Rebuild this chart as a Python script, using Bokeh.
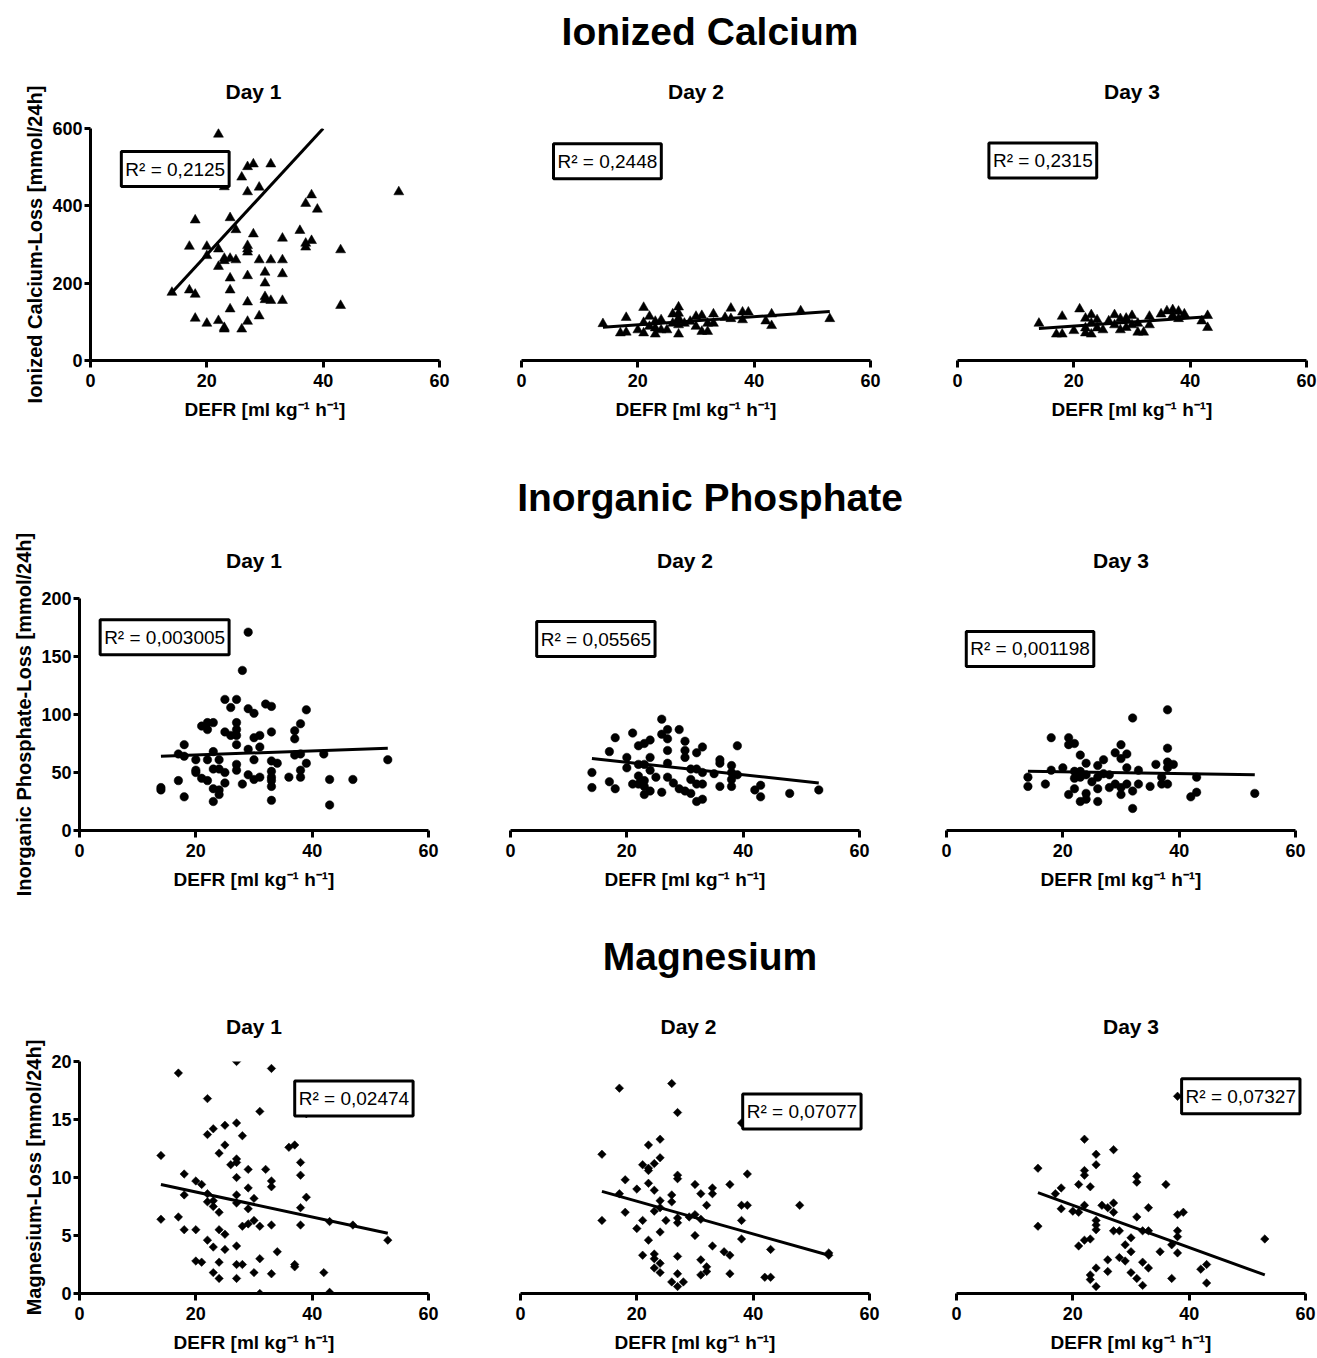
import numpy as np
from bokeh.plotting import figure
from bokeh.layouts import column, row
from bokeh.models import Div, Range1d, Label
from bokeh.embed import file_html
from bokeh.resources import INLINE

# ---------------- data ----------------
x_ticks = [0, 20, 40, 60]
ca_ticks = [0, 200, 400, 600]
pi_ticks = [0, 50, 100, 150, 200]
mg_ticks = [0, 5, 10, 15, 20]

row_titles = ["Ionized Calcium", "Inorganic Phosphate", "Magnesium"]
day_titles = ["Day 1", "Day 2", "Day 3"]
x_label = "DEFR [ml kg\u207b\u00b9 h\u207b\u00b9]"
y_labels = ["Ionized Calcium-Loss [mmol/24h]",
            "Inorganic Phosphate-Loss [mmol/24h]",
            "Magnesium-Loss [mmol/24h]"]

# Ionized calcium
ca_d1_x = [14, 17, 17, 18, 18, 18, 20, 20, 20, 22, 22, 22, 22, 23, 23, 23, 23, 23, 24, 24, 24, 24, 24,
           25, 25, 26, 26, 27, 27, 27, 27, 27, 27, 27, 27, 28, 28, 29, 29, 29, 30, 30, 30, 30, 31, 31, 31,
           33, 33, 33, 33, 36, 37, 37, 37, 38, 38, 39, 43, 43, 53]
ca_d1_y = [176, 182, 295, 363, 171, 109, 295, 271, 96, 585, 288, 243, 103, 449, 264, 258, 85, 81,
           369, 264, 213, 182, 133, 338, 260, 474, 81, 501, 436, 297, 288, 280, 219, 151, 101, 508, 327,
           448, 260, 115, 228, 200, 165, 157, 508, 260, 155, 316, 260, 224, 155, 336, 406, 303, 293,
           428, 310, 391, 286, 142, 436]
ca_d2_x = [14, 17, 18, 18, 20, 21, 21, 21, 22, 22, 23, 23, 23, 24, 24, 25, 26, 26, 27, 27, 27, 27, 27,
           28, 29, 30, 30, 31, 31, 32, 32, 33, 33, 35, 36, 36, 38, 38, 39, 42, 43, 43, 48, 53]
ca_d2_y = [95, 71, 111, 73, 79, 137, 98, 71, 114, 88, 101, 68, 84, 105, 79, 79, 120, 96, 138, 122, 109,
           92, 68, 96, 101, 114, 88, 116, 75, 96, 75, 120, 96, 111, 135, 108, 125, 105, 125, 102, 120,
           90, 128, 108]
ca_d3_x = [14, 17, 18, 18, 20, 21, 22, 22, 22, 23, 23, 23, 24, 24, 25, 26, 27, 27, 28, 28, 29, 29, 30,
           30, 31, 31, 32, 33, 33, 35, 36, 37, 37, 38, 38, 39, 42, 43, 43]
ca_d3_y = [96, 68, 114, 68, 77, 133, 109, 84, 71, 118, 96, 68, 105, 84, 79, 102, 118, 92, 108, 79, 109,
           85, 116, 92, 96, 73, 73, 114, 92, 120, 128, 131, 116, 127, 108, 120, 102, 116, 85]

# Inorganic phosphate
pi_d1_x = [14, 14, 17, 17, 18, 18, 18, 20, 20, 20, 21, 21, 22, 22, 22, 22, 23, 23, 23, 23, 23, 24, 24,
           24, 24, 25, 25, 25, 25, 26, 26, 27, 27, 27, 27, 27, 27, 27, 28, 28, 29, 29, 29, 29, 30, 30,
           30, 30, 31, 31, 31, 32, 33, 33, 33, 33, 33, 33, 33, 33, 34, 36, 37, 37, 37, 38, 38, 38, 38,
           39, 39, 42, 43, 43, 47, 53]
pi_d1_y = [37, 35, 43, 66, 74, 64, 29, 61, 52, 50, 90, 45, 93, 87, 61, 43, 93, 68, 53, 36, 25, 61, 53,
           35, 31, 113, 85, 50, 41, 106, 82, 113, 93, 87, 82, 74, 57, 52, 138, 40, 171, 105, 70, 48,
           101, 80, 61, 44, 82, 72, 46, 109, 107, 85, 60, 51, 46, 43, 38, 26, 58, 46, 86, 79, 65, 92,
           66, 52, 46, 104, 58, 66, 44, 22, 44, 61]
pi_d2_x = [14, 14, 17, 17, 18, 18, 20, 20, 21, 21, 22, 22, 22, 22, 23, 23, 23, 23, 23, 24, 24, 24, 24,
           25, 26, 26, 26, 27, 27, 27, 27, 27, 28, 29, 29, 30, 30, 30, 30, 31, 31, 31, 32, 32, 32, 32,
           33, 33, 33, 33, 35, 36, 36, 36, 38, 38, 38, 38, 39, 39, 42, 43, 43, 48, 53]
pi_d2_y = [50, 37, 68, 42, 80, 36, 63, 54, 84, 40, 73, 57, 47, 40, 75, 57, 43, 38, 31, 78, 63, 52, 34,
           46, 96, 83, 33, 87, 79, 69, 58, 46, 41, 87, 36, 77, 69, 63, 34, 53, 44, 32, 67, 53, 40, 25,
           72, 50, 40, 27, 49, 61, 58, 38, 56, 50, 44, 38, 73, 48, 35, 39, 29, 32, 35]
pi_d3_x = [14, 14, 17, 18, 18, 20, 21, 21, 21, 22, 22, 22, 22, 23, 23, 23, 23, 24, 24, 24, 24, 25, 26,
           26, 26, 26, 27, 27, 28, 28, 29, 29, 30, 30, 30, 30, 31, 31, 31, 32, 32, 32, 33, 33, 35, 36,
           37, 37, 38, 38, 38, 38, 38, 39, 42, 43, 43, 53]
pi_d3_y = [46, 38, 40, 80, 52, 54, 80, 74, 31, 75, 51, 45, 36, 65, 51, 46, 25, 58, 48, 32, 27, 42, 56,
           46, 36, 25, 61, 49, 48, 37, 67, 40, 74, 62, 37, 31, 66, 54, 40, 97, 34, 19, 52, 40, 38, 57,
           46, 40, 104, 71, 59, 54, 40, 57, 29, 46, 33, 32]

# Magnesium
mg_d1_x = [14, 14, 17, 17, 18, 18, 18, 20, 20, 20, 21, 21, 22, 22, 22, 22, 22, 23, 23, 23, 23, 23, 24,
           24, 24, 24, 24, 25, 25, 25, 25, 26, 27, 27, 27, 27, 27, 27, 27, 27, 27, 27, 28, 28, 28, 29,
           29, 29, 29, 30, 30, 30, 31, 31, 31, 31, 32, 33, 33, 33, 33, 33, 34, 36, 37, 37, 37, 38, 38,
           38, 38, 39, 39, 42, 43, 43, 47, 53]
mg_d1_y = [11.9, 6.4, 19.0, 6.6, 10.3, 8.5, 5.5, 9.7, 5.5, 2.8, 9.4, 2.7, 16.8, 13.7, 8.6, 7.9, 4.6,
           14.2, 8.0, 7.5, 4.0, 1.8, 12.1, 7.0, 5.5, 2.7, 1.3, 14.5, 12.8, 5.1, 3.8, 11.1, 20.0, 14.7,
           11.6, 11.3, 10.0, 8.5, 7.8, 4.1, 2.5, 1.3, 13.6, 5.8, 2.5, 10.7, 9.1, 7.3, 6.0, 8.2, 6.3,
           1.8, 15.7, 5.8, 3.0, 0.0, 10.7, 19.4, 9.7, 9.2, 5.9, 1.7, 3.6, 12.6, 12.8, 2.5, 2.3, 11.3,
           10.2, 7.4, 5.9, 15.5, 8.3, 1.8, 6.2, 0.1, 5.9, 4.6]
mg_d2_x = [14, 14, 17, 17, 18, 18, 20, 20, 21, 21, 21, 22, 22, 22, 22, 22, 23, 23, 23, 23, 23, 23, 24,
           24, 24, 24, 24, 24, 24, 25, 26, 26, 26, 26, 27, 27, 27, 27, 27, 27, 27, 27, 28, 29, 30, 30,
           30, 31, 31, 31, 31, 32, 32, 32, 33, 33, 33, 35, 36, 36, 36, 38, 38, 38, 38, 39, 39, 42, 43,
           43, 48, 53, 53]
mg_d2_y = [12.0, 6.3, 17.7, 8.6, 9.8, 7.0, 9.0, 5.6, 11.1, 6.3, 3.3, 12.8, 10.8, 10.6, 9.5, 4.6, 11.2,
           8.9, 7.1, 3.4, 3.0, 2.2, 13.3, 11.7, 8.0, 7.4, 5.3, 2.6, 1.8, 6.3, 18.1, 8.5, 7.9, 1.0,
           15.6, 10.2, 9.9, 6.5, 6.1, 3.2, 1.7, 0.6, 1.0, 6.6, 9.4, 6.8, 5.0, 8.6, 6.4, 2.9, 1.6, 7.6,
           2.3, 1.9, 9.1, 8.6, 4.1, 3.6, 9.4, 3.3, 1.7, 7.6, 6.3, 4.7, 14.7, 7.6, 10.3, 1.4, 1.4, 3.8,
           7.6, 3.5, 3.3]
mg_d3_x = [14, 14, 17, 18, 18, 20, 21, 21, 21, 22, 22, 22, 22, 22, 23, 23, 23, 23, 24, 24, 24, 24, 24,
           24, 24, 25, 26, 26, 26, 27, 27, 27, 27, 28, 28, 29, 29, 30, 30, 30, 31, 31, 31, 31, 32, 32,
           32, 33, 33, 33, 35, 36, 37, 37, 38, 38, 38, 38, 38, 39, 42, 43, 43, 53]
mg_d3_y = [10.8, 5.8, 8.6, 9.1, 7.3, 7.1, 9.4, 7.0, 4.1, 13.3, 10.6, 10.2, 7.6, 4.6, 9.2, 4.7, 1.6,
           1.2, 12.0, 11.1, 6.3, 5.9, 5.5, 2.2, 0.6, 7.6, 7.4, 2.9, 1.9, 12.4, 7.8, 7.0, 5.4, 5.4, 3.1,
           4.2, 2.8, 4.8, 3.6, 1.8, 10.1, 9.6, 6.6, 1.3, 5.4, 2.7, 0.7, 7.4, 5.4, 2.2, 3.6, 9.4, 4.2,
           1.3, 6.8, 5.4, 4.9, 3.5, 17.0, 7.0, 2.1, 2.5, 0.9, 4.7]

# linear-regression lines (end points)
ca_d1_fit_x, ca_d1_fit_y = [14, 40], [176, 600]
ca_d2_fit_x, ca_d2_fit_y = [14, 53], [86, 127]
ca_d3_fit_x, ca_d3_fit_y = [14, 43], [83, 113]
pi_d1_fit_x, pi_d1_fit_y = [14, 53], [64, 71]
pi_d2_fit_x, pi_d2_fit_y = [14, 53], [62, 41]
pi_d3_fit_x, pi_d3_fit_y = [14, 53], [51, 48]
mg_d1_fit_x, mg_d1_fit_y = [14, 53], [9.4, 5.2]
mg_d2_fit_x, mg_d2_fit_y = [14, 53], [8.8, 3.3]
mg_d3_fit_x, mg_d3_fit_y = [14, 53], [8.7, 1.6]

r2_texts = ["R\u00b2 = 0,2125", "R\u00b2 = 0,2448", "R\u00b2 = 0,2315",
            "R\u00b2 = 0,003005", "R\u00b2 = 0,05565", "R\u00b2 = 0,001198",
            "R\u00b2 = 0,02474", "R\u00b2 = 0,07077", "R\u00b2 = 0,07327"]

# ---------------- styling / layout (pixels) ----------------
FONT = "Liberation Sans"
FW, FH = 349, 232
TOTAL_W = 1317

# R2 box anchor (left of text, vertical middle) in data units of each panel
r2_pos = [(5.3, 495), (5.5, 515), (5.4, 517),
          (3.55, 166.5), (4.5, 165), (3.4, 156.5),
          (37.0, 16.8), (38.2, 15.7), (38.7, 17.0)]

# (left, right) borders per panel
borders = [[(90, 12), (70, 12), (75, 11)],
           [(79, 12), (70, 12), (75, 22)],
           [(79, 12), (80, 12), (75, 12)]]
title_div_h = [50, 41, 46]
title_div_pad = [9, -2, 0]
border_top = [78, 80, 81]
border_bottom = [117, 104, 60]
day_cx = [[253, 696, 1131], [253, 684, 1121], [253, 688, 1131]]
day_standoff = [52, 54, 48]
DAY_HALF_W = 28  # half width of "Day n" at 21px bold
row_title_cx = 710


def style_axis(ax, is_x):
    ax.axis_line_width = 3
    ax.axis_line_color = "black"
    ax.major_tick_line_width = 3
    ax.major_tick_line_color = "black"
    ax.major_tick_out = 7 if is_x else 6
    ax.major_tick_in = 0
    ax.minor_tick_line_color = None
    ax.major_label_text_font = FONT
    ax.major_label_text_font_style = "bold"
    ax.major_label_text_font_size = "18px"
    ax.major_label_text_color = "black"
    ax.axis_label_text_font = FONT
    ax.axis_label_text_font_style = "bold"
    ax.axis_label_text_color = "black"
    if is_x:
        ax.axis_label_text_font_size = "19px"
        ax.major_label_standoff = 6
        ax.axis_label_standoff = 9
    else:
        ax.axis_label_text_font_size = "20px"
        ax.major_label_standoff = 2
        ax.axis_label_standoff = 3


def make_panel(xs, ys, fx, fy, r2, r2xy, ymax, yticks, ylabel, marker, msize, mangle,
               bl, br, bt, bb, day_text, day_dx, day_so):
    show_y = ylabel is not None
    p = figure(frame_width=FW, frame_height=FH,
               x_range=Range1d(0, 60), y_range=Range1d(0, ymax),
               output_backend="svg", toolbar_location=None,
               min_border_left=bl, min_border_right=br,
               min_border_top=bt, min_border_bottom=bb,
               title=day_text,
               y_axis_location="left" if show_y else None)
    if abs(day_dx - FW / 2.0) > 3:
        p.title.align = "left"
        p.title.offset = day_dx - DAY_HALF_W
    else:
        p.title.align = "center"
    p.title.standoff = day_so
    p.title.text_font = FONT
    p.title.text_font_size = "21px"
    p.title.text_font_style = "bold"
    p.title.text_color = "black"
    p.outline_line_color = None
    p.grid.visible = False
    p.background_fill_color = "white"
    p.border_fill_color = "white"
    p.xaxis.ticker = x_ticks
    p.xaxis.axis_label = x_label
    style_axis(p.xaxis[0], True)
    if show_y:
        p.yaxis.ticker = yticks
        p.yaxis.axis_label = ylabel
        style_axis(p.yaxis[0], False)
    p.line(fx, fy, line_width=3, line_color="black")
    p.scatter(xs, ys, marker=marker, size=msize, angle=mangle,
              fill_color="black", line_color="black", line_width=0.5)
    lab = Label(x=r2xy[0], y=r2xy[1], text=r2, text_font=FONT, text_font_size="19px",
                text_color="black", text_align="left", text_baseline="middle",
                border_line_color="black", border_line_width=3,
                background_fill_color="white",
                padding=dict(left=4, right=4, top=7, bottom=7))
    p.add_layout(lab)
    return p


def row_title_div(text, h, pad):
    html = ('<div style="position:relative;width:%dpx;height:%dpx;">'
            '<div style="position:absolute;left:%dpx;top:%dpx;width:800px;text-align:center;'
            'font-family:\'%s\';font-weight:bold;font-size:39px;line-height:46px;color:black;'
            'white-space:nowrap;">%s</div></div>') % (TOTAL_W, h, row_title_cx - 400, pad, FONT, text)
    return Div(text=html, width=TOTAL_W, height=h, margin=0)


panels_data = [
    [(ca_d1_x, ca_d1_y, ca_d1_fit_x, ca_d1_fit_y),
     (ca_d2_x, ca_d2_y, ca_d2_fit_x, ca_d2_fit_y),
     (ca_d3_x, ca_d3_y, ca_d3_fit_x, ca_d3_fit_y)],
    [(pi_d1_x, pi_d1_y, pi_d1_fit_x, pi_d1_fit_y),
     (pi_d2_x, pi_d2_y, pi_d2_fit_x, pi_d2_fit_y),
     (pi_d3_x, pi_d3_y, pi_d3_fit_x, pi_d3_fit_y)],
    [(mg_d1_x, mg_d1_y, mg_d1_fit_x, mg_d1_fit_y),
     (mg_d2_x, mg_d2_y, mg_d2_fit_x, mg_d2_fit_y),
     (mg_d3_x, mg_d3_y, mg_d3_fit_x, mg_d3_fit_y)],
]
row_ticks = [ca_ticks, pi_ticks, mg_ticks]
row_markers = [("triangle", 10, 0.0), ("circle", 8.5, 0.0), ("square", 6, np.pi / 4)]

items = []
for r in range(3):
    items.append(row_title_div(row_titles[r], title_div_h[r], title_div_pad[r]))
    figs = []
    x_left = 0
    for c in range(3):
        xs, ys, fx, fy = panels_data[r][c]
        mk, ms, ma = row_markers[r]
        ticks = row_ticks[r]
        bl, br = borders[r][c]
        frame_left = x_left + bl
        p = make_panel(xs, ys, fx, fy, r2_texts[3 * r + c], r2_pos[3 * r + c],
                       ticks[-1], ticks, y_labels[r] if c == 0 else None,
                       mk, ms, ma, bl, br, border_top[r], border_bottom[r],
                       day_titles[c], day_cx[r][c] - frame_left, day_standoff[r])
        figs.append(p)
        x_left += bl + FW + br
    items.append(row(*figs, spacing=0))

layout = column(*items, spacing=0)
open("out.html", "w").write(file_html(layout, INLINE, title="Ionized Calcium, Inorganic Phosphate, Magnesium"))
